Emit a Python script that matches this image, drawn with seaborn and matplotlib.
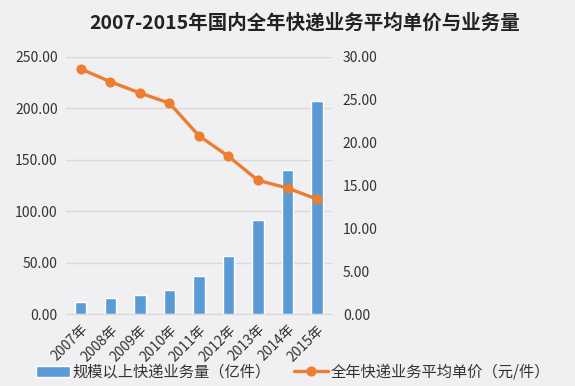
import matplotlib
matplotlib.use("Agg")
import matplotlib.pyplot as plt
import seaborn as sns
import pandas as pd

years = ["2007年", "2008年", "2009年", "2010年", "2011年", "2012年", "2013年", "2014年", "2015年"]
volume = [12.0, 15.1, 18.6, 23.4, 36.7, 56.9, 91.9, 139.6, 206.7]
price = [28.6, 27.1, 25.8, 24.6, 20.8, 18.4, 15.6, 14.7, 13.4]
left_ticks = [0, 50, 100, 150, 200, 250]
right_ticks = [0, 5, 10, 15, 20, 25, 30]

sns.set_style("white")
plt.rcParams['font.family'] = ['Noto Sans CJK SC', 'DejaVu Sans']

bg = "#f0f0f2"
blue = "#5b9bd5"
orange = "#ed7d31"

df = pd.DataFrame({"year": years, "volume": volume, "price": price})

fig = plt.figure(figsize=(5.75, 3.86), dpi=100, facecolor=bg)
ax = fig.add_axes([0.115, 0.1865, 0.462, 0.666])
ax.set_facecolor(bg)

sns.barplot(data=df, x="year", y="volume", color=blue, width=0.38,
            saturation=1, ax=ax, label="规模以上快递业务量（亿件）")
ax.set_ylim(0, 250)
ax.set_yticks(left_ticks)
ax.set_yticklabels([f"{v:.2f}" for v in left_ticks], fontsize=10, color="#333333")
ax.yaxis.grid(True, color="#d9d9d9", linewidth=1)
ax.set_axisbelow(True)
for s in ["top", "right", "left"]:
    ax.spines[s].set_visible(False)
ax.spines["bottom"].set_color("#d9d9d9")
ax.tick_params(axis="both", length=0, pad=6)
ax.set_xticks(range(len(years)))
ax.set_xticklabels(years, rotation=45, ha="right", rotation_mode="anchor",
                   fontsize=10, color="#333333")
ax.set_xlabel("")
ax.set_ylabel("")

ax2 = ax.twinx()
sns.pointplot(data=df, x="year", y="price", color=orange, markers="o",
              markersize=5.5, linewidth=2.4, ax=ax2,
              label="全年快递业务平均单价（元/件）")
ax2.set_ylim(0, 30)
ax2.set_yticks(right_ticks)
ax2.set_yticklabels([f"{v:.2f}" for v in right_ticks], fontsize=10, color="#333333")
for s in ["top", "right", "left", "bottom"]:
    ax2.spines[s].set_visible(False)
ax2.tick_params(axis="y", length=0, pad=8)
ax2.set_ylabel("")
ax2.set_xlim(-0.5, len(years) - 0.5)

h1, l1 = ax.get_legend_handles_labels()
h2, l2 = ax2.get_legend_handles_labels()
if ax2.get_legend():
    ax2.get_legend().remove()
if ax.get_legend():
    ax.get_legend().remove()
fig.legend(h1 + h2, l1 + l2, loc="center", bbox_to_anchor=(0.51, 0.036), ncol=2,
           frameon=False, fontsize=11, handlelength=2.2, handletextpad=0.2,
           columnspacing=1.5, labelcolor="#333333")

fig.text(0.53, 0.94, "2007-2015年国内全年快递业务平均单价与业务量", ha="center",
         va="center", fontsize=14, fontweight="bold", color="#222222")

fig.savefig("out.png", dpi=100, facecolor=bg)
